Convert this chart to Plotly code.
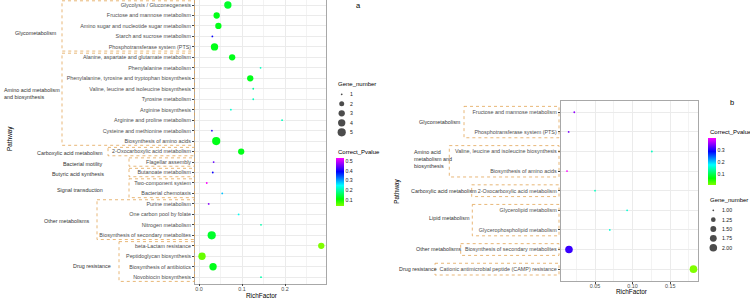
import numpy as np
import colorsys
import plotly.graph_objects as go

W, H = 750, 299

# ---------------- Panel a data ----------------
a_pathways = [
    "Glycolysis / Gluconeogenesis",
    "Fructose and mannose metabolism",
    "Amino sugar and nucleotide sugar metabolism",
    "Starch and sucrose metabolism",
    "Phosphotransferase system (PTS)",
    "Alanine, aspartate and glutamate metabolism",
    "Phenylalanine metabolism",
    "Phenylalanine, tyrosine and tryptophan biosynthesis",
    "Valine, leucine and isoleucine biosynthesis",
    "Tyrosine metabolism",
    "Arginine biosynthesis",
    "Arginine and proline metabolism",
    "Cysteine and methionine metabolism",
    "Biosynthesis of amino acids",
    "2-Oxocarboxylic acid metabolism",
    "Flagellar assembly",
    "Butanoate metabolism",
    "Two-component system",
    "Bacterial chemotaxis",
    "Purine metabolism",
    "One carbon pool by folate",
    "Nitrogen metabolism",
    "Biosynthesis of secondary metabolites",
    "beta-Lactam resistance",
    "Peptidoglycan biosynthesis",
    "Biosynthesis of antibiotics",
    "Novobiocin biosynthesis",
]
a_richfactor = [0.067, 0.041, 0.045, 0.031, 0.036, 0.077, 0.143, 0.119, 0.126,
                0.126, 0.074, 0.193, 0.030, 0.040, 0.098, 0.034, 0.032, 0.018,
                0.054, 0.0225, 0.092, 0.144, 0.0295, 0.284, 0.007, 0.0326, 0.144]
a_gene_number = [4, 3, 3, 1, 4, 3, 1, 3, 1, 1, 1, 1, 1, 5, 3, 1, 1, 1, 1, 1,
                 1, 1, 5, 3, 4, 4, 1]
a_pvalue = [0.14, 0.13, 0.13, 0.40, 0.13, 0.13, 0.22, 0.13, 0.20, 0.22, 0.23,
            0.22, 0.42, 0.13, 0.13, 0.45, 0.40, 0.535, 0.29, 0.47, 0.25, 0.21,
            0.14, 0.047, 0.06, 0.13, 0.21]
a_group_names = ["Glycometabolism", "Amino acid metabolism<br>and biosynthesis",
                 "Carboxylic acid metabolism", "Bacterial motility",
                 "Butyric acid synthesis", "Signal transduction",
                 "Other metabolisms", "Drug resistance"]
a_group_sizes = [5, 9, 1, 1, 1, 2, 4, 4]

# ---------------- Panel b data ----------------
b_pathways = [
    "Fructose and mannose metabolism",
    "Phosphotransferase system (PTS)",
    "Valine, leucine and isoleucine biosynthesis",
    "Biosynthesis of amino acids",
    "2-Oxocarboxylic acid metabolism",
    "Glycerolipid metabolism",
    "Glycerophospholipid metabolism",
    "Biosynthesis of secondary metabolites",
    "Cationic antimicrobial peptide (CAMP) resistance",
]
b_richfactor = [0.0224, 0.0149, 0.1256, 0.0127, 0.050, 0.0927, 0.0696, 0.0153, 0.181]
b_gene_number = [1, 1, 1, 1, 1, 1, 1, 2, 2]
b_pvalue = [0.36, 0.35, 0.15, 0.41, 0.15, 0.16, 0.16, 0.32, 0.005]
b_group_names = ["Glycometabolism", "Amino acid<br>metabolism and<br>biosynthesis",
                 "Carboxylic acid metabolism", "Lipid metabolism",
                 "Other metabolisms", "Drug resistance"]
b_group_sizes = [2, 2, 1, 2, 1, 1]

# ---------------- ticks / legends ----------------
a_xticks = [0.0, 0.1, 0.2]
a_xticklabels = ["0.0", "0.1", "0.2"]
b_xticks = [0.05, 0.10, 0.15]
b_xticklabels = ["0.05", "0.10", "0.15"]
a_cbar_ticks = [0.1, 0.2, 0.3, 0.4, 0.5]
b_cbar_ticks = [0.1, 0.2, 0.3]
a_size_legend = [1, 2, 3, 4, 5]
a_size_labels = ["1", "2", "3", "4", "5"]
b_size_legend = [1.00, 1.25, 1.50, 1.75, 2.00]
b_size_labels = ["1.00", "1.25", "1.50", "1.75", "2.00"]

FONT = "Liberation Sans, Arial, Helvetica, sans-serif"
TICK_FS = 5.4
GRP_FS = 5.4
TITLE_FS = 6.4
LEG_T_FS = 6.0
LEG_FS = 5.2
BOX_COLOR = "#E2A456"


def px(x):
    return x / W


def py(y):
    return 1 - y / H


def hsv_hex(h):
    r, g, b = colorsys.hsv_to_rgb(h / 360.0, 1, 1)
    return "#%02x%02x%02x" % (round(r * 255), round(g * 255), round(b * 255))


hues = [90, 120, 150, 180, 210, 240, 270, 300]
colorscale = [[i / (len(hues) - 1), hsv_hex(h)] for i, h in enumerate(hues)]


def area_size(v, vmin, vmax, smin, smax):
    v = np.asarray(v, dtype=float)
    return smin + (smax - smin) * np.sqrt((v - vmin) / (vmax - vmin))


A_SMIN, A_SMAX = 1.8, 8.2
B_SMIN, B_SMAX = 1.8, 7.6

fig = go.Figure()

# panel a points
fig.add_trace(go.Scatter(
    x=a_richfactor, y=a_pathways, mode="markers", xaxis="x", yaxis="y",
    marker=dict(size=area_size(a_gene_number, min(a_size_legend), max(a_size_legend), A_SMIN, A_SMAX),
                color=a_pvalue, coloraxis="coloraxis", line=dict(width=0), opacity=1),
    showlegend=False, hoverinfo="skip"))

# panel b points
fig.add_trace(go.Scatter(
    x=b_richfactor, y=b_pathways, mode="markers", xaxis="x2", yaxis="y2",
    marker=dict(size=area_size(b_gene_number, min(b_size_legend), max(b_size_legend), B_SMIN, B_SMAX),
                color=b_pvalue, coloraxis="coloraxis2", line=dict(width=0), opacity=1),
    showlegend=False, hoverinfo="skip"))

# size legend keys (a) - positioned by index on a hidden legend axis
A_LEG_MX = 341.7
fig.add_trace(go.Scatter(
    x=[A_LEG_MX] * len(a_size_legend), y=list(range(len(a_size_legend))), mode="markers",
    xaxis="x3", yaxis="y3",
    marker=dict(size=area_size(a_size_legend, min(a_size_legend), max(a_size_legend), A_SMIN, A_SMAX),
                color="black", line=dict(width=0)),
    showlegend=False, hoverinfo="skip"))
# size legend keys (b)
B_LEG_MX = 713.3
fig.add_trace(go.Scatter(
    x=[B_LEG_MX] * len(b_size_legend), y=list(range(len(b_size_legend))), mode="markers",
    xaxis="x4", yaxis="y4",
    marker=dict(size=area_size(b_size_legend, min(b_size_legend), max(b_size_legend), B_SMIN, B_SMAX),
                color="black", line=dict(width=0)),
    showlegend=False, hoverinfo="skip"))

axis_common = dict(showline=True, mirror=True, linecolor="#A8A8A8", linewidth=0.7,
                   zeroline=False, ticks="outside", ticklen=2, tickwidth=0.6,
                   tickcolor="#444444", tickfont=dict(size=TICK_FS, color="#4D4D4D", family=FONT),
                   showgrid=True, gridcolor="#EBEBEB", gridwidth=0.6, fixedrange=True)

a_bot = 283.6
a_row0, a_rowstep = 5.0, 10.47
b_top, b_bot = 100.7, 280.7

layout = dict(
    width=W, height=H, margin=dict(l=0, r=0, t=0, b=0),
    paper_bgcolor="white", plot_bgcolor="white",
    font=dict(family=FONT, color="black"),
    xaxis=dict(domain=[px(195), px(326)], range=[-0.0093, 0.295], anchor="y",
               tickmode="array", tickvals=a_xticks, ticktext=a_xticklabels,
               ticklabelstandoff=-2,
               minor=dict(tickvals=[0.05, 0.15, 0.25], showgrid=True, gridcolor="#F3F3F3",
                          gridwidth=0.4, ticks=""),
               **axis_common),
    yaxis=dict(domain=[py(a_bot), 1], anchor="x", type="category",
               categoryorder="array", categoryarray=a_pathways,
               range=[len(a_pathways) - 1 + (a_bot - (a_row0 + (len(a_pathways) - 1) * a_rowstep)) / a_rowstep,
                      -a_row0 / a_rowstep],
               **axis_common),
    xaxis2=dict(domain=[px(560.7), px(698)], range=[0.0043, 0.187], anchor="y2",
                tickmode="array", tickvals=b_xticks, ticktext=b_xticklabels,
                ticklabelstandoff=-2,
                minor=dict(tickvals=[0.025, 0.075, 0.125, 0.175], showgrid=True,
                           gridcolor="#F3F3F3", gridwidth=0.4, ticks=""),
                **axis_common),
    yaxis2=dict(domain=[py(b_bot), py(b_top)], anchor="x2", type="category",
                categoryorder="array", categoryarray=b_pathways,
                range=[len(b_pathways) - 1 + 0.59, -0.59],
                **axis_common),
    xaxis3=dict(domain=[px(330), px(370)], range=[330, 370], visible=False, anchor="y3", fixedrange=True),
    yaxis3=dict(domain=[py(132.3 + 4.75), py(94.3 - 4.75)],
                range=[len(a_size_labels) - 0.5, -0.5], visible=False, anchor="x3", fixedrange=True),
    xaxis4=dict(domain=[px(700), px(740)], range=[700, 740], visible=False, anchor="y4", fixedrange=True),
    yaxis4=dict(domain=[py(247.7 + 4.7), py(210.3 - 4.7)],
                range=[len(b_size_labels) - 0.5, -0.5], visible=False, anchor="x4", fixedrange=True),
    coloraxis=dict(colorscale=colorscale, cmin=min(a_pvalue), cmax=max(a_pvalue),
                   colorbar=dict(x=px(336), xanchor="left", y=py(157.5), yanchor="top",
                                 len=47.5, lenmode="pixels", thickness=8, thicknessmode="pixels",
                                 xpad=0, ypad=0, outlinewidth=0, ticks="",
                                 tickmode="array", tickvals=a_cbar_ticks,
                                 ticktext=["%.1f" % v for v in a_cbar_ticks],
                                 tickfont=dict(size=LEG_FS, color="#222222", family=FONT),
                                 title=dict(text=""))),
    coloraxis2=dict(colorscale=colorscale, cmin=min(b_pvalue), cmax=max(b_pvalue),
                    colorbar=dict(x=px(708), xanchor="left", y=py(137.7), yanchor="top",
                                  len=46.6, lenmode="pixels", thickness=8, thicknessmode="pixels",
                                  xpad=0, ypad=0, outlinewidth=0, ticks="",
                                  tickmode="array", tickvals=b_cbar_ticks,
                                  ticktext=["%.1f" % v for v in b_cbar_ticks],
                                  tickfont=dict(size=LEG_FS, color="#222222", family=FONT),
                                  title=dict(text=""))),
    showlegend=False,
)
fig.update_layout(**layout)

# ---------- group boxes ----------
shapes = []
a_box_left = [62, 62, 108, 129, 129, 129, 97, 119]
a_box_right = 194.5
pad_a = 0.4
start = 0
for name, n, left in zip(a_group_names, a_group_sizes, a_box_left):
    shapes.append(dict(type="rect", xref="paper", yref="y",
                       x0=px(left), x1=px(a_box_right), y0=start - pad_a, y1=start + n - 1 + pad_a,
                       line=dict(color=BOX_COLOR, width=0.8, dash="dot"), fillcolor="rgba(0,0,0,0)",
                       layer="above"))
    start += n

b_box_left = [464, 449.3, 471.7, 472.3, 460.7, 435]
b_box_right = 559
pad_b = 0.3
start = 0
for name, n, left in zip(b_group_names, b_group_sizes, b_box_left):
    shapes.append(dict(type="rect", xref="paper", yref="y2",
                       x0=px(left), x1=px(b_box_right), y0=start - pad_b, y1=start + n - 1 + pad_b,
                       line=dict(color=BOX_COLOR, width=0.8, dash="dot"), fillcolor="rgba(0,0,0,0)",
                       layer="above"))
    start += n
fig.update_layout(shapes=shapes)

# ---------- annotations ----------
ann = []


def text_ann(text, x, y, size, color="#333333", xanchor="left", align="left", angle=0):
    ann.append(dict(text=text, x=px(x), y=py(y), xref="paper", yref="paper",
                    xanchor=xanchor, yanchor="middle", align=align, showarrow=False,
                    textangle=angle, font=dict(size=size, color=color, family=FONT)))


a_group_pos = [(13.3, 33.3), (2, 93), (35, 153), (61, 164.3), (50, 173.7),
               (55, 190), (42, 220.7), (71, 266)]
for name, (x, y) in zip(a_group_names, a_group_pos):
    text_ann(name, x, y, GRP_FS)

b_group_pos = [(417.3, 122), (411.7, 158.5), (409, 190.5), (426.7, 217.5),
               (414.3, 248.5), (397, 269)]
for name, (x, y) in zip(b_group_names, b_group_pos):
    text_ann(name, x, y, GRP_FS)

# axis titles
text_ann("Pathway", 10, 139, TITLE_FS, color="black", xanchor="center", angle=-90)
text_ann("RichFactor", 262, 295, TITLE_FS, color="black", xanchor="center")
text_ann("Pathway", 396.7, 191, TITLE_FS, color="black", xanchor="center", angle=-90)
text_ann("RichFactor", 632, 291.5, TITLE_FS, color="black", xanchor="center")

# panel letters
text_ann("a", 358, 6, 7.5, color="black", xanchor="center")
text_ann("b", 731.7, 102, 7.5, color="black", xanchor="center")

# legend titles
text_ann("Gene_number", 336, 84.3, LEG_T_FS, color="black")
text_ann("Correct_Pvalue", 335.7, 151.7, LEG_T_FS, color="black")
text_ann("Correct_Pvalue", 707.5, 132.3, LEG_T_FS, color="black")
text_ann("Gene_number", 707.5, 200, LEG_T_FS, color="black")

# size legend labels (by index on the hidden legend axes)
for i, lab in enumerate(a_size_labels):
    ann.append(dict(text=lab, x=348.3, y=i, xref="x3", yref="y3", xanchor="left",
                    yanchor="middle", showarrow=False,
                    font=dict(size=LEG_FS, color="#222222", family=FONT)))
for i, lab in enumerate(b_size_labels):
    ann.append(dict(text=lab, x=720, y=i, xref="x4", yref="y4", xanchor="left",
                    yanchor="middle", showarrow=False,
                    font=dict(size=LEG_FS, color="#222222", family=FONT)))

fig.update_layout(annotations=ann)

fig.write_html("out.html", config={"displayModeBar": False},
               post_script="document.body.style.margin='0px';document.body.style.padding='0px';")
